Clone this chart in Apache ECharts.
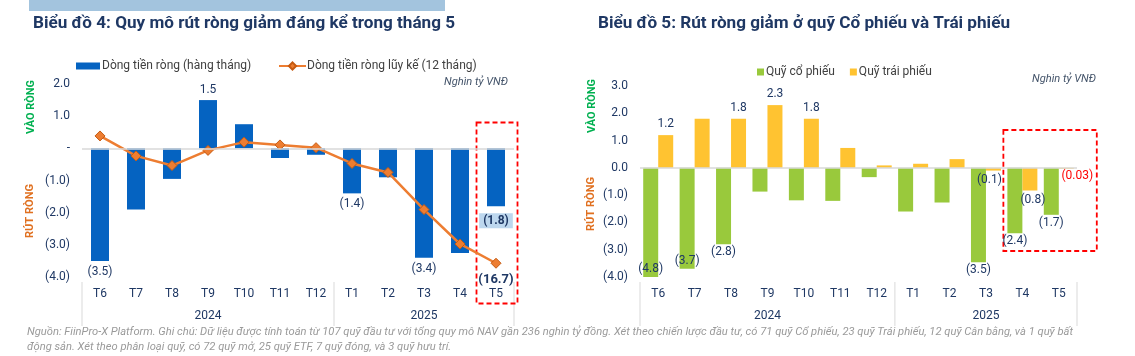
<!DOCTYPE html>
<html><head><meta charset="utf-8">
<script src="https://cdn.jsdelivr.net/npm/echarts@6/dist/echarts.min.js"></script>
<style>html,body{margin:0;padding:0;background:#fff}#c{width:1135px;height:356px}</style>
</head><body><div id="c"></div>
<script>
// ---- data ----
const months = ['T6','T7','T8','T9','T10','T11','T12','T1','T2','T3','T4','T5'];
const years = ['2024','2025'];
const yearStartIdx = [0, 7];
const monthlyFlow = [-3.5,-1.9,-0.95,1.5,0.75,-0.3,-0.2,-1.4,-0.9,-3.4,-3.25,-1.8];
const cumulativeFlow = [1.8,-1.1,-2.5,-0.3,0.9,0.5,0.1,-2.2,-3.5,-8.9,-13.9,-16.7];
const equityFunds = [-4.8,-3.7,-2.8,-0.87,-1.19,-1.21,-0.34,-1.6,-1.27,-3.46,-2.4,-1.72];
const bondFunds = [1.2,1.8,1.8,2.3,1.8,0.73,0.09,0.15,0.32,-0.1,-0.83,-0.03];
const leftTickValues = [2,1,0,-1,-2,-3,-4];
const rightTickValues = [3,2,1,0,-1,-2,-3,-4];

const titleLeft = 'Biểu đồ 4: Quy mô rút ròng giảm đáng kể trong tháng 5';
const titleRight = 'Biểu đồ 5: Rút ròng giảm ở quỹ Cổ phiếu và Trái phiếu';
const unitText = 'Nghìn tỷ VNĐ';
const footer1 = 'Nguồn: FiinPro-X Platform. Ghi chú: Dữ liệu được tính toán từ 107 quỹ đầu tư với tổng quy mô NAV gần 236 nghìn tỷ đồng. Xét theo chiến lược đầu tư, có 71 quỹ Cổ phiếu, 23 quỹ Trái phiếu, 12 quỹ Cân bằng, và 1 quỹ bất';
const footer2 = 'động sản. Xét theo phân loại quỹ, có 72 quỹ mở, 25 quỹ ETF, 7 quỹ đóng, và 3 quỹ hưu trí.';

// ---- styling ----
const FONT = 'Roboto';
const NAVY = '#1F3864';
const fmt = v => {
  const d = (v !== 0 && Math.abs(v) < 0.05) ? 2 : 1;
  return v < 0 ? '(' + Math.abs(v).toFixed(d) + ')' : v.toFixed(d);
};
const fmtLeftTick = v => v === 0 ? '-' : fmt(v);

const leftShow = [1,0,0,1,0,0,0,1,0,1,0,1];
const eqShow = ['insideBottom','insideBottom','bottom',0,0,0,0,0,0,'bottom','bottom','bottom'];
const bondShow = ['top',0,'top','top','top',0,0,0,0,'bottom','bottom','bottom'];

const lblBase = {fontFamily: FONT, fontSize: 12, color: NAVY, formatter: p => fmt(p.value)};

const barLeftData = monthlyFlow.map((v, i) => {
  const o = {value: v, label: {show: !!leftShow[i], position: v >= 0 ? 'top' : 'bottom', distance: v >= 0 ? 4 : 5}};
  if (i === 11) o.label = {show: true, position: 'bottom', fontWeight: 'bold', backgroundColor: '#BDD7EE', padding: [2, 4, 1, 4], distance: 7};
  return o;
});
const lineData = cumulativeFlow.map((v, i) => ({value: v, label: {show: i === 11}}));
const eqData = equityFunds.map((v, i) => ({value: v, label: eqShow[i] ? {show: true, position: eqShow[i], distance: 2} : {show: false}}));
const bondData = bondFunds.map((v, i) => {
  const o = {value: v, label: bondShow[i] ? {show: true, position: bondShow[i], distance: bondShow[i] === 'top' ? 5 : 3} : {show: false}};
  if (i === 11) o.label = {show: true, position: 'bottom', color: '#FF0000', offset: [11, 0], distance: 1};
  if (i === 9) o.label.offset = [-4, 0];
  if (i === 10) o.label.offset = [3, 0];
  return o;
});

const xAxisCommon = {
  type: 'category', data: months,
  axisLine: {show: false}, axisTick: {show: false},
  axisLabel: {fontFamily: FONT, fontSize: 12, color: NAVY, margin: 11}
};
const legendText = {fontFamily: FONT, fontSize: 12, color: '#404040'};

const option = {
  animation: false,
  textStyle: {fontFamily: FONT},
  grid: [
    {left: 82, right: 621, top: 84, bottom: 79},
    {left: 640, right: 58, top: 86, bottom: 79}
  ],
  legend: [
    {data: [{name: 'Dòng tiền ròng (hàng tháng)', icon: 'rect'}], left: 71, top: 55, itemWidth: 24, itemHeight: 7, itemGap: 5,
     textStyle: Object.assign({padding: [0, 0, 0, -3]}, legendText)},
    {data: ['Dòng tiền ròng lũy kế (12 tháng)'], left: 273, top: 55, itemWidth: 27, itemHeight: 9,
     textStyle: Object.assign({padding: [0, 0, 0, -4]}, legendText)},
    {data: [{name: 'Quỹ cổ phiếu', icon: 'rect'}, {name: 'Quỹ trái phiếu', icon: 'rect'}], left: 752, top: 61, itemWidth: 7, itemHeight: 7, itemGap: 15,
     textStyle: Object.assign({padding: [0, 0, 0, -3]}, legendText)}
  ],
  xAxis: [
    Object.assign({gridIndex: 0}, xAxisCommon),
    Object.assign({gridIndex: 1}, xAxisCommon)
  ],
  yAxis: [
    {gridIndex: 0, type: 'value', min: -4, max: 2, interval: 1, splitLine: {show: false},
     axisLabel: {fontFamily: FONT, fontSize: 12, color: NAVY, margin: 12, formatter: fmtLeftTick}},
    {gridIndex: 0, type: 'value', min: -18.7, max: 9.35, show: false, splitLine: {show: false}},
    {gridIndex: 1, type: 'value', min: -4, max: 3, interval: 1, splitLine: {show: false},
     axisLabel: {fontFamily: FONT, fontSize: 12, color: NAVY, margin: 12, formatter: v => fmt(v)}}
  ],
  series: [
    {name: 'Dòng tiền ròng (hàng tháng)', type: 'bar', xAxisIndex: 0, yAxisIndex: 0, barWidth: 18,
     itemStyle: {color: '#0563C1'}, data: barLeftData, label: lblBase,
     markLine: {silent: true, symbol: 'none', label: {show: false}, lineStyle: {color: '#D9D9D9', type: 'solid', width: 1.5},
       data: [{yAxis: 0}]}},
    {name: 'Dòng tiền ròng lũy kế (12 tháng)', type: 'line', xAxisIndex: 0, yAxisIndex: 1, data: lineData,
     symbol: 'diamond', symbolSize: 10, lineStyle: {color: '#ED7D31', width: 2.5},
     itemStyle: {color: '#ED7D31', borderColor: '#C55A11', borderWidth: 1},
     label: {position: 'bottom', distance: 5, fontFamily: FONT, fontSize: 13, fontWeight: 'bold', color: NAVY, formatter: p => fmt(p.value)}},
    {name: 'Quỹ cổ phiếu', type: 'bar', xAxisIndex: 1, yAxisIndex: 2, barWidth: 15, barGap: '0%',
     itemStyle: {color: '#99C93C'}, data: eqData, label: lblBase,
     markLine: {silent: true, symbol: 'none', label: {show: false}, lineStyle: {color: '#D9D9D9', type: 'solid', width: 1.5},
       data: [{yAxis: 0}]}},
    {name: 'Quỹ trái phiếu', type: 'bar', xAxisIndex: 1, yAxisIndex: 2, barWidth: 15, barGap: '0%',
     itemStyle: {color: '#FFC331'}, data: bondData, label: lblBase}
  ]
};

const chart = echarts.init(document.getElementById('c'), null, {renderer: 'canvas'});
chart.setOption(option);

// ---- decorations positioned from the chart scales ----
const mctx = document.createElement('canvas').getContext('2d');
function measure(text, font) { mctx.font = font; return mctx.measureText(text).width; }
function fitText(text, x, y, width, font, fill, extra) {
  const s = width / measure(text, font);
  return Object.assign({type: 'text', x: x, y: y, scaleX: s, style: {text: text, font: font, fill: fill, textVerticalAlign: 'middle'}}, extra || {});
}
const titleFont = 'bold 16px ' + FONT;
const g = [];
g.push({type: 'rect', shape: {x: 29, y: 0, width: 416, height: 11}, style: {fill: '#A3C4DE'}, silent: true});
g.push(fitText(titleLeft, 33, 24, 422, titleFont, NAVY));
g.push(fitText(titleRight, 598, 24, 412, titleFont, NAVY));
function rot(text, x, y, color) {
  const f = 'bold 11px ' + FONT;
  const s = 54 / measure(text, f);
  g.push({type: 'text', x: x, y: y, rotation: Math.PI / 2, scaleX: s,
    style: {text: text, font: f, fill: color, textAlign: 'center', textVerticalAlign: 'middle'}});
}
rot('VÀO RÒNG', 31, 107, '#00B050'); rot('RÚT RÒNG', 30, 211, '#E07020');
rot('VÀO RÒNG', 592, 106, '#00B050'); rot('RÚT RÒNG', 591, 204, '#E07020');
g.push(fitText(unitText, 444, 82, 64, 'italic 11px ' + FONT, '#44546A'));
g.push(fitText(unitText, 1032, 79, 64, 'italic 11px ' + FONT, '#44546A'));

[0, 1].forEach(gi => {
  const px = i => chart.convertToPixel({xAxisIndex: gi}, i);
  const step = px(1) - px(0);
  const bounds = yearStartIdx.map(i => px(i) - step / 2).concat([px(months.length - 1) + step / 2]);
  bounds.forEach(bx => g.push({type: 'line', shape: {x1: bx, y1: 282, x2: bx, y2: 326}, style: {stroke: '#D9D9D9', lineWidth: 1}}));
  years.forEach((y, k) => {
    const cx = (bounds[k] + bounds[k + 1]) / 2;
    g.push({type: 'text', x: cx, y: 316, style: {text: y, font: '12px ' + FONT, fill: NAVY, textAlign: 'center', textVerticalAlign: 'middle'}});
  });
});
// highlight boxes around T5
const lx = chart.convertToPixel({xAxisIndex: 0}, 11);
g.push({type: 'rect', shape: {x: lx - 19.5, y: 122.5, width: 41, height: 181}, style: {fill: 'none', stroke: '#FF0000', lineWidth: 1.8, lineDash: [5, 3]}});
const r4 = chart.convertToPixel({xAxisIndex: 1}, 10), r5 = chart.convertToPixel({xAxisIndex: 1}, 11);
g.push({type: 'rect', shape: {x: r4 - 19, y: 130, width: r5 - r4 + 57, height: 121}, style: {fill: 'none', stroke: '#FF0000', lineWidth: 1.8, lineDash: [5, 3]}});

const footFont = 'italic 10px ' + FONT;
const fs = 1046 / measure(footer1, footFont);
g.push({type: 'text', x: 27, y: 332, scaleX: fs, style: {text: footer1, font: footFont, fill: '#9A9A9A', textVerticalAlign: 'middle'}});
g.push({type: 'text', x: 27, y: 347, scaleX: fs, style: {text: footer2, font: footFont, fill: '#9A9A9A', textVerticalAlign: 'middle'}});
chart.setOption({graphic: g});
</script></body></html>
